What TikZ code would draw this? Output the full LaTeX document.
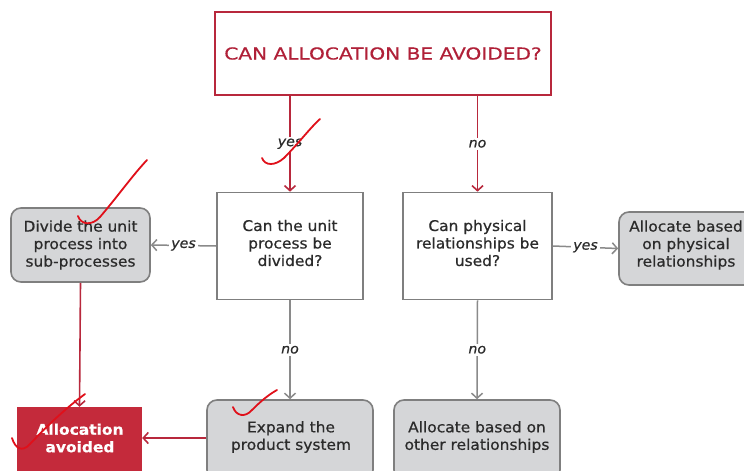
\documentclass[tikz,border=0pt]{standalone}
\usepackage{fontspec}
\setmainfont{DejaVu Sans}[FakeStretch=1.05,FakeBold=0.6]
\newfontfamily\titlefont{DejaVu Sans}[FakeStretch=1.22,FakeBold=0.4]
\usetikzlibrary{arrows.meta}
\definecolor{redline}{HTML}{B8283C}
\definecolor{grayline}{HTML}{8A8A8A}
\definecolor{boxfill}{HTML}{D5D6D8}
\definecolor{boxdraw}{HTML}{7F7F7F}
\definecolor{txt}{HTML}{2B2B2B}
\definecolor{titlered}{HTML}{B02038}
\definecolor{avoidfill}{HTML}{C42A3B}
\definecolor{checkred}{HTML}{E0101A}
\tikzset{
  qbox/.style={draw=boxdraw, line width=1.6pt, fill=white, text=txt, align=center, inner sep=0pt},
  rbox/.style={draw=boxdraw, line width=1.6pt, fill=boxfill, rounded corners=10pt, inner sep=0pt},
  btext/.style={text=txt, align=center, font=\fontsize{14.7}{17.5}\selectfont, inner sep=0pt},
  garrow/.style={draw=grayline, line width=1.5pt, -{Straight Barb[length=5pt,width=11pt]}},
  rarrow/.style={draw=redline, line width=1.6pt, -{Straight Barb[length=5pt,width=11pt]}},
  lab/.style={fill=white, text=txt, font=\fontsize{13.5}{16}\selectfont\itshape, inner sep=2pt},
  checkmark/.style={draw=checkred, line width=1.8pt, line cap=round}
}
\begin{document}
\begin{tikzpicture}[x=1pt, y=-1pt]
\useasboundingbox[fill=white] (0,0) rectangle (744,471);
% title
\node[draw=redline, line width=1.6pt, fill=white, minimum width=336pt, minimum height=83pt, inner sep=0pt,
      text=titlered, font=\titlefont\fontsize{16.5}{19}\selectfont] (title) at (383,53.5) {CAN ALLOCATION BE AVOIDED?};
% question boxes
\node[qbox, minimum width=146pt, minimum height=107pt] (unit) at (290,246) {};
\node[btext] (unitT) at (290,243) {Can the unit\\process be\\divided?};
\node[qbox, minimum width=149pt, minimum height=107pt] (phys) at (477.5,246) {};
\node[btext] (physT) at (477.5,243) {Can physical\\relationships be\\used?};
% outcome boxes
\node[rbox, minimum width=139pt, minimum height=74pt] (divide) at (80.5,245) {};
\node[btext] (divideT) at (80.5,245) {Divide the unit\\process into\\sub-processes};
\node[rbox, minimum width=146pt, minimum height=73pt] (physout) at (692,248.5) {};
\node[btext] (physoutT) at (686,245) {Allocate based\\on physical\\relationships};
\node[rbox, minimum width=166pt, minimum height=80pt] (expand) at (290,440) {};
\node[btext] (expandT) at (291,437) {Expand the\\product system};
\node[rbox, minimum width=166pt, minimum height=80pt] (other) at (477,440) {};
\node[btext] (otherT) at (477,437) {Allocate based on\\other relationships};
\node[fill=avoidfill, minimum width=125pt, minimum height=75pt, inner sep=0pt] (avoid) at (79.5,444.5) {};
\node[text=white, align=center, font=\bfseries\fontsize{14.7}{17.5}\selectfont, inner sep=0pt] (avoidT) at (80,438) {Allocation\\avoided};
% top connectors
\draw[rarrow] (title.south -| unit) -- node[lab, text=txt] {yes} (unit.north);
\draw[rarrow] (title.south -| phys) -- node[lab, text=txt] {no} (phys.north);
% side connectors
\draw[garrow] (unit.west) -- node[lab] {yes} (divide.east);
\draw[garrow] (phys.east) -- node[lab] {yes} (physout.west);
% down connectors
\draw[garrow] (unit.south) -- node[lab] {no} (expand.north);
\draw[garrow] (phys.south) -- node[lab] {no} (other.north);
% red connectors
\draw[rarrow] (divide.south) -- (avoid.north);
\draw[rarrow] (expand.west |- avoidT) -- (avoid.east |- avoidT);
% handwritten check marks
\draw[checkmark] (262,158) .. controls (265,166) and (275,166) .. (284,158) .. controls (298,144) and (310,128) .. (320,119);
\draw[checkmark] (78,216) .. controls (81,225) and (92,226) .. (100,217) .. controls (118,196) and (132,176) .. (147,160);
\draw[checkmark] (12,438) .. controls (15,448) and (22,453) .. (30,444) .. controls (48,425) and (66,408) .. (85,394);
\draw[checkmark] (233,407) .. controls (236,416) and (245,418) .. (252,410) .. controls (260,402) and (268,395) .. (277,390);
\end{tikzpicture}
\end{document}
